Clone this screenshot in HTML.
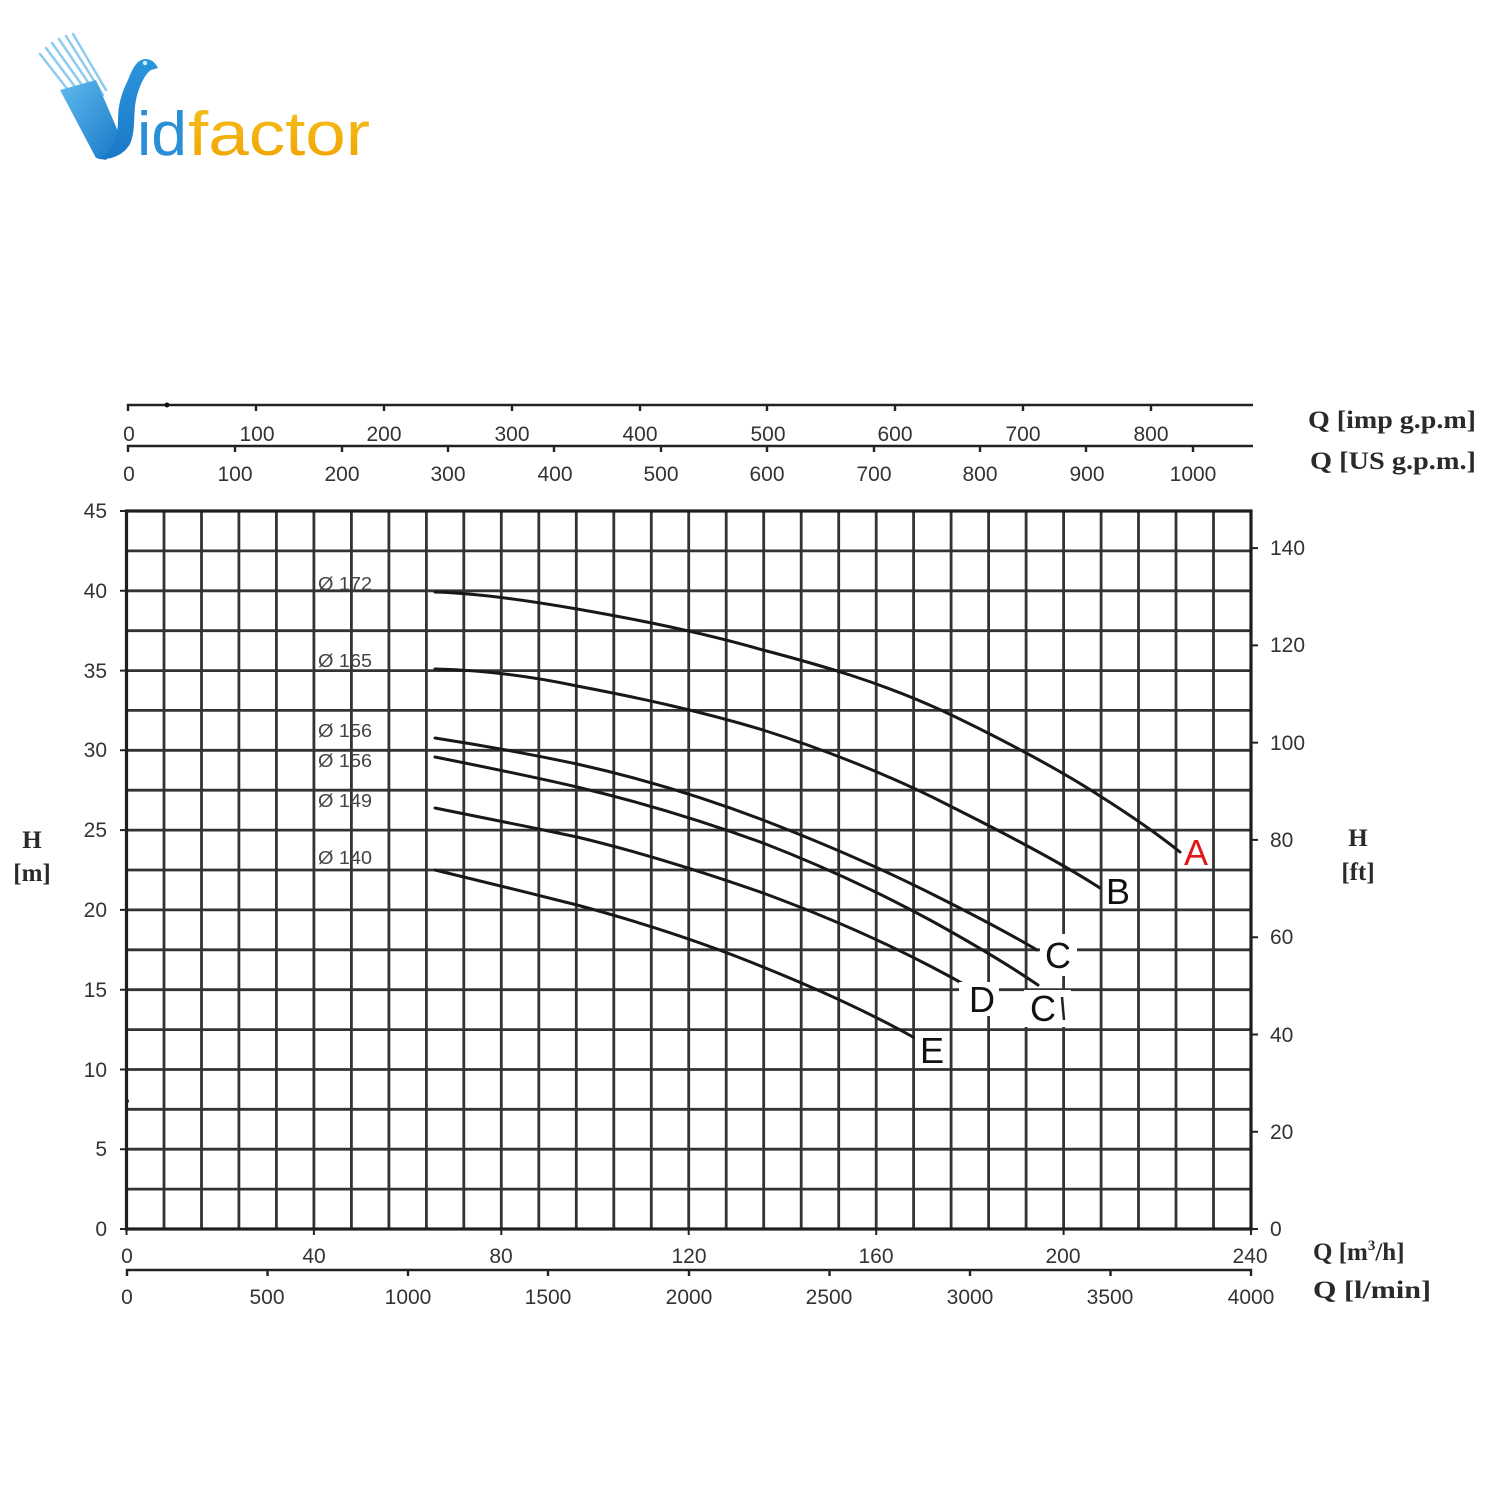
<!DOCTYPE html>
<html><head><meta charset="utf-8"><style>
html,body{margin:0;padding:0;background:#fff;}
svg{display:block;}
.t{font-family:"Liberation Sans",Arial,sans-serif;font-size:21px;fill:#333;}
.s{font-family:"Liberation Serif",serif;font-size:25px;font-weight:bold;fill:#2a2a2a;}
.d{font-family:"Liberation Sans",Arial,sans-serif;font-size:18px;fill:#444;}
.L{font-family:"Liberation Sans",Arial,sans-serif;font-size:36px;fill:#111;}
</style></head><body>
<svg width="1500" height="1500" viewBox="0 0 1500 1500" xmlns="http://www.w3.org/2000/svg">
<defs>
<linearGradient id="gb" x1="0" y1="0" x2="1" y2="1"><stop offset="0" stop-color="#62bbee"/><stop offset="1" stop-color="#1677c8"/></linearGradient>
<linearGradient id="gb2" x1="0" y1="0" x2="0" y2="1"><stop offset="0" stop-color="#2b95dc"/><stop offset="1" stop-color="#1a78c6"/></linearGradient>
<linearGradient id="go" x1="0" y1="0" x2="0" y2="1"><stop offset="0" stop-color="#f6c21c"/><stop offset="1" stop-color="#f0a000"/></linearGradient>
</defs>
<rect width="1500" height="1500" fill="#fff"/>

<!-- Logo -->
<g stroke="#7cc3ee" stroke-width="2.5" stroke-linecap="round" opacity="0.85">
<line x1="40" y1="54" x2="90" y2="118"/>
<line x1="46" y1="48" x2="94" y2="112"/>
<line x1="52" y1="43" x2="97" y2="106"/>
<line x1="59" y1="39" x2="100" y2="100"/>
<line x1="66" y1="36" x2="103" y2="95"/>
<line x1="73" y1="34" x2="106" y2="90"/>
</g>
<path d="M60,90 L96,80 L120,136 L106,160 L96,158 Z" fill="url(#gb)"/>
<path d="M98,159 C112,152 118,138 118,120 C118,104 122,92 128,80 C132,70 136,60 145,59 C151,59 155,62 158,68 L151,70 C145,74 139,86 136,100 C133,114 136,130 130,144 C123,156 110,160 98,159 Z" fill="url(#gb2)"/>
<circle cx="145" cy="63" r="2.2" fill="#cfeeff"/>
<text x="137" y="155" font-family="'Liberation Sans',sans-serif" font-size="62" fill="#2a8fd6" textLength="50" lengthAdjust="spacingAndGlyphs">id</text>
<text x="188" y="155" font-family="'Liberation Sans',sans-serif" font-size="62" fill="url(#go)" textLength="182" lengthAdjust="spacingAndGlyphs">factor</text>

<!-- Grid -->
<path fill="none" stroke="#333" stroke-width="2.8" d="
M164 511V1229M201.5 511V1229M238.9 511V1229M276.4 511V1229M313.9 511V1229M351.4 511V1229M388.9 511V1229M426.4 511V1229M463.8 511V1229M501.3 511V1229
M538.8 511V1229M576.3 511V1229M613.8 511V1229M651.3 511V1229M688.7 511V1229M726.2 511V1229M763.7 511V1229M801.2 511V1229M838.7 511V1229M876.2 511V1229
M913.6 511V1229M951.1 511V1229M988.6 511V1229M1026.1 511V1229M1063.6 511V1229M1101.1 511V1229M1138.5 511V1229M1176 511V1229M1213.5 511V1229
M126.5 550.9H1251M126.5 590.8H1251M126.5 630.7H1251M126.5 670.6H1251M126.5 710.4H1251M126.5 750.3H1251M126.5 790.2H1251M126.5 830.1H1251
M126.5 870H1251M126.5 909.9H1251M126.5 949.8H1251M126.5 989.7H1251M126.5 1029.6H1251M126.5 1069.5H1251M126.5 1109.3H1251M126.5 1149.2H1251M126.5 1189.1H1251"/>
<rect x="126.5" y="511" width="1124.5" height="718" fill="none" stroke="#1e1e1e" stroke-width="3.2"/>

<!-- left ticks -->
<path stroke="#222" stroke-width="2" d="M120 511H127M120 590.8H127M120 670.6H127M120 750.3H127M120 830.1H127M120 909.9H127M120 989.7H127M120 1069.5H127M120 1149.2H127M120 1229H127"/>
<!-- right ticks -->
<path stroke="#222" stroke-width="2" d="M1251 548.1H1258M1251 645.4H1258M1251 742.6H1258M1251 839.9H1258M1251 937.2H1258M1251 1034.5H1258M1251 1131.7H1258M1251 1229H1258"/>
<!-- bottom ticks -->
<path stroke="#222" stroke-width="2" d="M126.5 1229V1235M313.9 1229V1235M501.3 1229V1235M688.7 1229V1235M876.2 1229V1235M1063.6 1229V1235M1251 1229V1235"/>
<circle cx="127" cy="1101" r="2" fill="#222"/>

<!-- left labels -->
<g class="t" text-anchor="end">
<text x="107" y="518">45</text><text x="107" y="598">40</text><text x="107" y="678">35</text><text x="107" y="757">30</text>
<text x="107" y="837">25</text><text x="107" y="917">20</text><text x="107" y="997">15</text><text x="107" y="1077">10</text>
<text x="107" y="1156">5</text><text x="107" y="1236">0</text>
</g>
<!-- right labels -->
<g class="t">
<text x="1270" y="555">140</text><text x="1270" y="652">120</text><text x="1270" y="750">100</text><text x="1270" y="847">80</text>
<text x="1270" y="944">60</text><text x="1270" y="1042">40</text><text x="1270" y="1139">20</text><text x="1270" y="1236">0</text>
</g>

<!-- top axes -->
<path fill="none" stroke="#222" stroke-width="2.4" d="M128 411V405H1253M256 405V411M384 405V411M512 405V411M640 405V411M767 405V411M895 405V411M1023 405V411M1151 405V411"/>
<circle cx="167" cy="405" r="2.5" fill="#111"/>
<path fill="none" stroke="#222" stroke-width="2.4" d="M128 452V446H1253M235 446V452M342 446V452M448 446V452M554 446V452M661 446V452M767 446V452M874 446V452M980 446V452M1086 446V452M1193 446V452"/>
<g class="t" text-anchor="middle">
<text x="129" y="441">0</text><text x="257" y="441">100</text><text x="384" y="441">200</text><text x="512" y="441">300</text><text x="640" y="441">400</text>
<text x="768" y="441">500</text><text x="895" y="441">600</text><text x="1023" y="441">700</text><text x="1151" y="441">800</text>
<text x="129" y="481">0</text><text x="235" y="481">100</text><text x="342" y="481">200</text><text x="448" y="481">300</text><text x="555" y="481">400</text>
<text x="661" y="481">500</text><text x="767" y="481">600</text><text x="874" y="481">700</text><text x="980" y="481">800</text><text x="1087" y="481">900</text><text x="1193" y="481">1000</text>
</g>

<!-- bottom axes -->
<path fill="none" stroke="#222" stroke-width="2.4" d="M127 1276V1270H1251V1276M267.5 1270V1276M408 1270V1276M548 1270V1276M689 1270V1276M829.5 1270V1276M970 1270V1276M1110.5 1270V1276"/>
<g class="t" text-anchor="middle">
<text x="127" y="1263">0</text><text x="314" y="1263">40</text><text x="501" y="1263">80</text><text x="689" y="1263">120</text>
<text x="876" y="1263">160</text><text x="1063" y="1263">200</text><text x="1250" y="1263">240</text>
<text x="127" y="1304">0</text><text x="267" y="1304">500</text><text x="408" y="1304">1000</text><text x="548" y="1304">1500</text><text x="689" y="1304">2000</text>
<text x="829" y="1304">2500</text><text x="970" y="1304">3000</text><text x="1110" y="1304">3500</text><text x="1251" y="1304">4000</text>
</g>

<!-- unit labels -->
<text class="s" x="1308" y="428" textLength="168" lengthAdjust="spacingAndGlyphs">Q [imp g.p.m]</text>
<text class="s" x="1310" y="469" textLength="166" lengthAdjust="spacingAndGlyphs">Q [US g.p.m.]</text>
<text class="s" x="1313" y="1260">Q [m<tspan font-size="15" dy="-10">3</tspan><tspan dy="10">/h]</tspan></text>
<text class="s" x="1313" y="1298" textLength="118" lengthAdjust="spacingAndGlyphs">Q [l/min]</text>
<text class="s" x="32" y="848" text-anchor="middle">H</text>
<text class="s" x="32" y="881" text-anchor="middle">[m]</text>
<text class="s" x="1358" y="846" text-anchor="middle">H</text>
<text class="s" x="1358" y="880" text-anchor="middle">[ft]</text>

<!-- diameter labels -->
<g class="d">
<text x="318" y="590" textLength="54" lengthAdjust="spacingAndGlyphs">Ø 172</text>
<text x="318" y="667" textLength="54" lengthAdjust="spacingAndGlyphs">Ø 165</text>
<text x="318" y="737" textLength="54" lengthAdjust="spacingAndGlyphs">Ø 156</text>
<text x="318" y="767" textLength="54" lengthAdjust="spacingAndGlyphs">Ø 156</text>
<text x="318" y="807" textLength="54" lengthAdjust="spacingAndGlyphs">Ø 149</text>
<text x="318" y="864" textLength="54" lengthAdjust="spacingAndGlyphs">Ø 140</text>
</g>

<!-- curves -->
<g fill="none" stroke="#181818" stroke-width="3" stroke-linejoin="round" stroke-linecap="round">
<path d="M435,592 C470,593 520,599 577,609 C640,620 700,632 763,650 C820,665 880,682 943,711 C1000,738 1060,770 1100,796 C1130,815 1160,836 1180,852"/>
<path d="M435,669 C480,670 530,676 577,686 C640,698 700,711 763,730 C820,748 890,775 950,806 C1000,831 1060,862 1100,888"/>
<path d="M435,738 C480,745 530,754 577,764 C640,778 700,796 763,820 C820,842 880,868 930,893 C970,913 1010,934 1037,950"/>
<path d="M435,757 C480,766 530,776 577,787 C640,802 700,820 763,843 C820,865 880,893 930,920 C970,942 1010,966 1038,985"/>
<path d="M435,808 C480,817 530,827 577,837 C640,852 700,871 763,893 C820,914 880,940 930,966 C945,974 955,979 965,985"/>
<path d="M435,870 C480,881 530,893 577,905 C640,922 700,941 763,967 C820,990 870,1013 913,1037"/>
</g>

<!-- end labels -->
<rect x="1183" y="836" width="27" height="30" fill="#fff"/>
<text x="1196" y="865" class="L" text-anchor="middle" style="fill:#e01818">A</text>
<rect x="1103" y="875" width="32" height="33" fill="#fff"/>
<text x="1118" y="904" class="L" text-anchor="middle">B</text>
<rect x="1040" y="934" width="37" height="42" fill="#fff"/>
<text x="1058" y="968" class="L" text-anchor="middle">C</text>
<rect x="959" y="982" width="40" height="34" fill="#fff"/>
<text x="982" y="1012" class="L" text-anchor="middle">D</text>
<rect x="1024" y="990" width="47" height="37" fill="#fff"/>
<text x="1043" y="1021" class="L" text-anchor="middle">C</text>
<line x1="1062" y1="997" x2="1064" y2="1020" stroke="#222" stroke-width="2.5"/>
<rect x="915" y="1035" width="34" height="32" fill="#fff"/>
<text x="932" y="1063" class="L" text-anchor="middle">E</text>
</svg>
</body></html>
